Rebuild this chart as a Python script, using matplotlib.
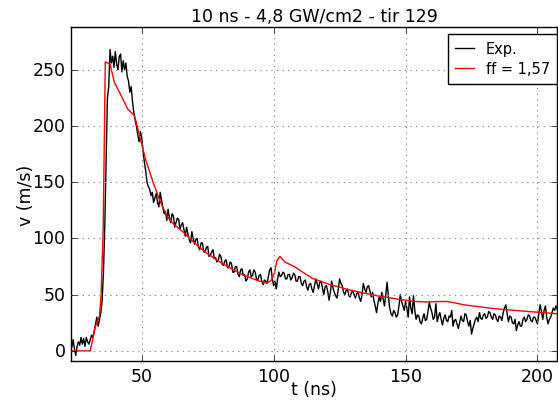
import matplotlib
matplotlib.use("Agg")
import matplotlib.pyplot as plt
import numpy as np

plt.style.use("classic")

title = "10 ns - 4,8 GW/cm2 - tir 129"
xlabel = "t (ns)"
ylabel = "v (m/s)"
exp_label = "Exp."
model_label = "ff = 1,57"

# Experimental signal, one value every 0.5 ns starting at t = 22
exp_t0 = 22
exp_dt = 0.5
exp_v = [
    12, 9, 6, 3, 10, 2, -4, 4, 8, 5, 12, 6, 11, 4, 12, 8, 6, 10, 14, 12,
    18, 24, 30, 22, 28, 34, 45, 70, 110, 170, 225, 235, 268, 256, 262, 252, 266, 255, 250, 262,
    264, 248, 258, 250, 256, 244, 240, 230, 235, 222, 212, 205, 200, 192, 186, 195, 190, 178, 168, 160,
    150, 146, 144, 138, 141, 132, 136, 140, 132, 128, 141, 134, 128, 122, 124, 116, 126, 118, 114, 122,
    120, 110, 114, 118, 117, 108, 112, 114, 108, 102, 110, 104, 99, 96, 106, 100, 95, 99, 100, 92,
    90, 96, 96, 88, 88, 92, 93, 84, 85, 88, 90, 82, 83, 79, 80, 86, 84, 77, 76, 80,
    81, 74, 74, 79, 78, 70, 70, 75, 75, 68, 66, 72, 73, 67, 68, 62, 64, 70, 72, 66,
    67, 72, 70, 64, 63, 67, 68, 62, 59, 63, 62, 60, 66, 72, 74, 64, 58, 62, 55, 64,
    70, 66, 67, 70, 69, 64, 64, 68, 68, 63, 65, 69, 68, 62, 62, 66, 66, 60, 58, 62,
    63, 57, 54, 59, 60, 55, 52, 58, 64, 60, 55, 61, 62, 56, 50, 57, 58, 53, 45, 52,
    62, 56, 52, 49, 47, 55, 64, 60, 58, 52, 50, 54, 55, 49, 48, 52, 53, 50, 47, 51,
    52, 47, 44, 50, 60, 55, 52, 57, 58, 53, 48, 52, 45, 40, 34, 42, 48, 44, 52, 46,
    40, 50, 61, 48, 38, 33, 31, 36, 34, 30, 32, 40, 50, 44, 40, 36, 44, 38, 30, 48,
    38, 33, 49, 36, 28, 32, 31, 26, 24, 29, 33, 27, 28, 35, 43, 38, 34, 28, 30, 42,
    26, 31, 34, 28, 23, 29, 32, 27, 26, 31, 30, 36, 22, 27, 28, 24, 20, 25, 31, 27,
    26, 33, 32, 26, 22, 27, 15, 20, 24, 28, 30, 26, 34, 29, 28, 32, 33, 29, 30, 35,
    34, 30, 28, 33, 32, 28, 26, 31, 30, 27, 34, 38, 41, 33, 26, 31, 30, 25, 24, 28,
    18, 23, 26, 22, 22, 28, 30, 26, 28, 32, 31, 27, 26, 30, 30, 27, 24, 33, 41, 35,
    28, 36, 40, 30, 24, 28, 30, 34, 38, 36, 40, 37, 34, 36, 33, 32,
]
exp_t = exp_t0 + exp_dt * np.arange(len(exp_v))

# Model curve (ff = 1,57)
model_t = [22, 30.5, 32.5, 34, 34.6, 35.4, 36.2, 38, 39.6, 42, 44.7, 47.3,
           49.2, 51.5, 54.3, 57, 59.5, 62, 66, 70, 74, 79, 84, 89, 94,
           96.7, 98, 99.2, 100.4, 101.2, 102.4, 104.3, 108.2, 111, 114.6,
           120, 127.4, 133, 140.3, 147, 153, 158, 162, 165.3, 168, 172,
           177.4, 182, 187.7, 194, 200.4, 205, 209.5]
model_v = [0, 0, 22, 31, 49, 108, 257, 255, 239, 228, 215, 209,
           191, 170, 150, 133, 120, 113, 105, 96, 88, 80, 73, 67, 62.5,
           60.5, 61, 63, 70, 80, 84, 79, 74.5, 70, 64.6,
           60, 55, 52, 48.6, 46, 44, 43.5, 43.8, 44, 43, 41,
           39.4, 38, 36.7, 35.5, 34.3, 33.5, 32.5]

fig = plt.figure(figsize=(5.58, 4.06), dpi=100, facecolor="white")
ax = fig.add_axes([71 / 558, 44 / 406, 486 / 558, 334 / 406])
ax.plot(exp_t, exp_v, color="black", lw=1.0, label=exp_label)
ax.plot(model_t, model_v, color="red", lw=1.0, label=model_label)
ax.set_xlim(23.2, 207.4)
ax.set_ylim(-9, 288)
ax.set_xticks([50, 100, 150, 200])
ax.set_yticks([0, 50, 100, 150, 200, 250])
ax.grid(True, color="0.55", linestyle=":", linewidth=0.8)
ax.set_title(title, fontsize=12.5, pad=4)
ax.set_xlabel(xlabel, fontsize=12.5, labelpad=-3)
ax.set_ylabel(ylabel, fontsize=12.5, labelpad=-2)
ax.tick_params(labelsize=12.5)
ax.tick_params(axis="x", pad=4)
ax.legend(loc="upper right", bbox_to_anchor=(1.0, (362 - 35) / 334),
          borderaxespad=0.0, fontsize=10.5, numpoints=1,
          handlelength=1.3, handletextpad=0.8, labelspacing=0.35,
          borderpad=0.5)
fig.savefig("out.png", dpi=100, facecolor="white")
